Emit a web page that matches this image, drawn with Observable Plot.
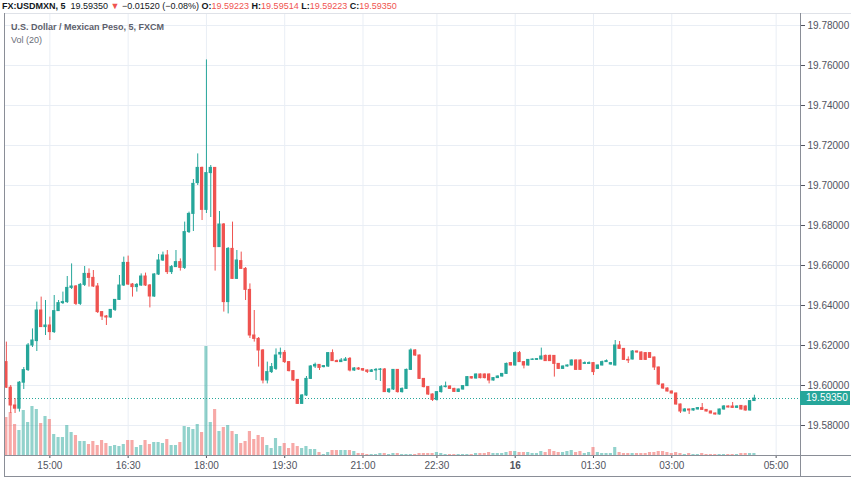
<!DOCTYPE html>
<html><head><meta charset="utf-8">
<script src="https://cdn.jsdelivr.net/npm/d3@7"></script>
<script src="https://cdn.jsdelivr.net/npm/@observablehq/plot@0.6"></script>
<style>
body{margin:0;background:#fff;font-family:"Liberation Sans",Arial,sans-serif;}
#wrap{position:relative;width:852px;height:485px;overflow:hidden;background:#fff;}
.layer{position:absolute;left:0;top:0;}
.layer svg{display:block;}
.ln{position:absolute;}
#hdr{position:absolute;left:2px;top:0;font-size:9px;line-height:13px;color:#131722;white-space:nowrap;}
#hdr .r{color:#ef5350;}
.leg{position:absolute;left:11px;font-size:9px;line-height:11px;color:#555;white-space:nowrap;}
#tag{position:absolute;left:800px;width:50px;height:14px;background:#26a69a;color:#fff;font-size:10px;line-height:14px;padding-left:6px;box-sizing:border-box;}
</style></head><body>
<div id="wrap">
  <div id="l1" class="layer"></div>
  <div id="l2" class="layer"></div>
  <div id="l3" class="layer"></div>
  <div class="ln" style="left:4px;top:13px;width:847px;height:1px;background:#dfe2e8"></div>
  <div class="ln" style="left:4px;top:13px;width:1px;height:464px;background:#8a8e97"></div>
  <div class="ln" style="left:4px;top:455px;width:847px;height:1px;background:#8a8e97"></div>
  <div class="ln" style="left:4px;top:476px;width:847px;height:1px;background:#8a8e97"></div>
  <div class="ln" style="left:800px;top:13px;width:1px;height:464px;background:#8a8e97"></div>
  <div id="hdr"><b>FX:USDMXN, 5</b>&nbsp; 19.59350 <span class="r">▼</span> −0.01520 (−0.08%) <b>O:</b><span class="r">19.59223</span> <b>H:</b><span class="r">19.59514</span> <b>L:</b><span class="r">19.59223</span> <b>C:</b><span class="r">19.59350</span></div>
  <div class="leg" style="top:22px;font-weight:bold;color:#5d606b">U.S. Dollar / Mexican Peso, 5, FXCM</div>
  <div class="leg" style="top:35px;color:#6a6d78">Vol (20)</div>
  <div id="tag">19.59350</div>
</div>
<script>
// 5-minute bars, index 0 = 14:10 (one bar missing between 21:00 and 22:30)
const open = [
19.6117,19.5989,19.5900,19.5884,19.6014,19.6077,19.6200,19.6222,19.6375,19.6292,
19.6300,19.6267,19.6372,19.6412,19.6417,19.6488,19.6495,19.6408,19.6503,19.6558,
19.6538,19.6495,19.6367,19.6345,19.6340,19.6378,19.6428,19.6500,19.6613,19.6505,
19.6492,19.6500,19.6545,19.6500,19.6445,19.6555,19.6625,19.6650,19.6567,19.6592,
19.6617,19.6588,19.6767,19.6858,19.7012,19.7088,19.6878,19.7062,19.7088,19.6692,
19.6805,19.6417,19.6683,19.6533,19.6622,19.6583,19.6478,19.6250,19.6233,19.6175,
19.6025,19.6067,19.6083,19.6155,19.6163,19.6117,19.6072,19.6028,19.5908,19.5950,
19.6033,19.6095,19.6103,19.6092,19.6095,19.6162,19.6122,19.6117,19.6123,19.6133,
19.6075,19.6085,19.6082,19.6075,19.6068,19.6075,19.6078,19.6080,19.5967,19.5980,
19.6078,19.5967,19.5983,19.6078,19.6175,19.6150,19.6033,19.5992,19.5955,19.5928,
19.5967,19.5992,19.5995,19.5983,19.5968,19.5980,19.5997,19.6042,19.6035,19.6055,
19.6055,19.6055,19.6025,19.6037,19.6045,19.6058,19.6112,19.6100,19.6162,19.6117,
19.6100,19.6128,19.6128,19.6130,19.6148,19.6148,19.6148,19.6108,19.6083,19.6095,
19.6100,19.6125,19.6125,19.6108,19.6108,19.6112,19.6083,19.6100,19.6117,19.6105,
19.6100,19.6200,19.6183,19.6128,19.6130,19.6170,19.6165,19.6162,19.6162,19.6140,
19.6090,19.6005,19.5985,19.5970,19.5960,19.5905,19.5870,19.5880,19.5875,19.5880,
19.5887,19.5878,19.5870,19.5860,19.5855,19.5880,19.5895,19.5895,19.5888,19.5898,
19.5895,19.5875,19.59223];
const high = [
19.6217,19.6000,19.5935,19.6020,19.6090,19.6210,19.6283,19.6417,19.6442,19.6425,
19.6342,19.6450,19.6425,19.6467,19.6545,19.6608,19.6500,19.6510,19.6595,19.6583,
19.6575,19.6510,19.6370,19.6350,19.6380,19.6430,19.6550,19.6642,19.6647,19.6510,
19.6510,19.6558,19.6562,19.6505,19.6560,19.6655,19.6667,19.6675,19.6600,19.6675,
19.6633,19.6817,19.6867,19.7030,19.7158,19.7092,19.7628,19.7100,19.7090,19.6870,
19.6810,19.6690,19.6817,19.6675,19.6667,19.6590,19.6508,19.6375,19.6240,19.6180,
19.6117,19.6110,19.6183,19.6187,19.6175,19.6120,19.6075,19.6030,19.5955,19.6045,
19.6100,19.6112,19.6105,19.6100,19.6165,19.6178,19.6127,19.6135,19.6140,19.6140,
19.6090,19.6090,19.6085,19.6078,19.6080,19.6085,19.6085,19.6085,19.5985,19.6080,
19.6080,19.5988,19.6082,19.6183,19.6180,19.6152,19.6035,19.5995,19.5958,19.5970,
19.6000,19.6017,19.5998,19.5986,19.5982,19.6000,19.6045,19.6045,19.6058,19.6058,
19.6058,19.6058,19.6040,19.6048,19.6060,19.6112,19.6115,19.6168,19.6170,19.6120,
19.6130,19.6133,19.6135,19.6187,19.6152,19.6152,19.6150,19.6110,19.6098,19.6103,
19.6128,19.6128,19.6128,19.6118,19.6118,19.6115,19.6102,19.6122,19.6128,19.6115,
19.6225,19.6220,19.6185,19.6143,19.6175,19.6172,19.6168,19.6165,19.6165,19.6142,
19.6092,19.6008,19.5988,19.5972,19.5962,19.5907,19.5885,19.5882,19.5885,19.5890,
19.5910,19.5880,19.5872,19.5862,19.5882,19.5900,19.5898,19.5915,19.5898,19.5900,
19.5898,19.5925,19.59514];
const low = [
19.5985,19.5860,19.5860,19.5867,19.5980,19.6070,19.6190,19.6170,19.6290,19.6250,
19.6225,19.6260,19.6370,19.6405,19.6410,19.6480,19.6400,19.6400,19.6495,19.6492,
19.6490,19.6360,19.6325,19.6300,19.6335,19.6370,19.6425,19.6495,19.6500,19.6442,
19.6467,19.6495,19.6495,19.6388,19.6440,19.6550,19.6620,19.6555,19.6555,19.6590,
19.6572,19.6580,19.6760,19.6770,19.7000,19.6825,19.6860,19.6840,19.6572,19.6690,
19.6367,19.6358,19.6530,19.6530,19.6580,19.6425,19.6235,19.6217,19.6092,19.6008,
19.6008,19.6060,19.6075,19.6135,19.6110,19.6068,19.6020,19.5905,19.5905,19.5945,
19.6030,19.6085,19.6075,19.6088,19.6090,19.6120,19.6115,19.6115,19.6120,19.6068,
19.6070,19.6075,19.6070,19.6060,19.6065,19.6025,19.6020,19.5965,19.5960,19.5975,
19.5962,19.5962,19.5980,19.6075,19.6145,19.6030,19.5988,19.5950,19.5920,19.5922,
19.5962,19.5988,19.5980,19.5965,19.5965,19.5977,19.5995,19.6032,19.6032,19.6033,
19.6033,19.6008,19.6022,19.6035,19.6042,19.6055,19.6098,19.6097,19.6115,19.6083,
19.6097,19.6125,19.6125,19.6128,19.6120,19.6120,19.6042,19.6080,19.6080,19.6092,
19.6098,19.6075,19.6075,19.6105,19.6105,19.6050,19.6080,19.6098,19.6115,19.6102,
19.6098,19.6180,19.6125,19.6110,19.6128,19.6162,19.6125,19.6125,19.6135,19.6075,
19.6000,19.5980,19.5968,19.5958,19.5902,19.5860,19.5868,19.5855,19.5872,19.5878,
19.5875,19.5868,19.5858,19.5852,19.5852,19.5877,19.5888,19.5885,19.5885,19.5878,
19.5872,19.5872,19.59223];
const close = [
19.5989,19.5900,19.5884,19.6014,19.6077,19.6200,19.6225,19.6375,19.6292,19.6300,
19.6267,19.6372,19.6412,19.6417,19.6488,19.6495,19.6408,19.6503,19.6558,19.6538,
19.6495,19.6367,19.6345,19.6340,19.6378,19.6428,19.6500,19.6613,19.6505,19.6492,
19.6503,19.6545,19.6500,19.6445,19.6555,19.6625,19.6650,19.6567,19.6592,19.6617,
19.6588,19.6767,19.6858,19.7008,19.7088,19.6878,19.7062,19.7088,19.6692,19.6805,
19.6417,19.6683,19.6533,19.6625,19.6583,19.6478,19.6250,19.6233,19.6175,19.6025,
19.6067,19.6092,19.6150,19.6163,19.6117,19.6072,19.6025,19.5908,19.5950,19.6033,
19.6095,19.6103,19.6088,19.6097,19.6162,19.6122,19.6117,19.6125,19.6130,19.6075,
19.6085,19.6080,19.6075,19.6068,19.6075,19.6078,19.6080,19.5967,19.5980,19.6078,
19.5967,19.5983,19.6078,19.6175,19.6150,19.6033,19.5992,19.5955,19.5928,19.5967,
19.5992,19.5995,19.5983,19.5968,19.5980,19.5997,19.6042,19.6035,19.6055,19.6037,
19.6037,19.6025,19.6037,19.6045,19.6058,19.6108,19.6100,19.6162,19.6117,19.6100,
19.6128,19.6130,19.6132,19.6145,19.6122,19.6122,19.6108,19.6083,19.6095,19.6100,
19.6125,19.6078,19.6078,19.6112,19.6112,19.6067,19.6100,19.6117,19.6122,19.6112,
19.6200,19.6183,19.6128,19.6125,19.6170,19.6165,19.6128,19.6128,19.6138,19.6090,
19.6005,19.5985,19.5970,19.5960,19.5905,19.5870,19.5880,19.5875,19.5882,19.5887,
19.5878,19.5870,19.5860,19.5855,19.5880,19.5895,19.5890,19.5888,19.5895,19.5880,
19.5875,19.5922,19.5935];
const volume = [
38,43,31,25,45,33,49,46,32,39,36,21,18,18,30,23,20,14,14,11,
14,10,15,12,9,10,9,11,15,15,8,10,15,11,13,13,12,16,10,10,
13,29,28,26,31,23,109,33,46,24,28,30,24,21,12,14,24,16,20,18,
10,7,17,9,12,7,12,9,7,9,6,6,3,1,3,5,5,5,5,5,
4,2,2,1,1,1,2,2,1,2,2,1,1,1,1,2,2,2,2,3,
2,1,1,1,1,1,1,1,2,2,2,3,2,2,2,3,4,4,3,3,
3,2,2,4,3,6,4,3,3,4,5,3,4,2,3,8,3,2,2,2,
8,3,2,2,2,2,2,2,3,3,4,4,3,2,3,2,1,2,1,1,
2,1,1,1,1,1,1,1,1,2,2,2,2];
const xTickIndex = [10,28,46,64,82,99,117,135,153,177];
const xTickLabels = ["15:00","16:30","18:00","19:30","21:00","22:30","16","01:30","03:00","05:00"];
const yTicks = [19.58,19.60,19.62,19.64,19.66,19.68,19.70,19.72,19.74,19.76,19.78];
const lastPrice = 19.5935;

const UP = "#26a69a", DOWN = "#ef5350";
const FONT = '"Liberation Sans", Arial, sans-serif';
const bars = open.map((o, i) => ({i, open: o, high: high[i], low: low[i], close: close[i], volume: volume[i], up: close[i] >= o}));

const base = {
  width: 852, height: 485, marginTop: 13, marginRight: 52, marginBottom: 30, marginLeft: 5,
  style: {background: "transparent", fontFamily: FONT, fontSize: "10px", color: "#50535e", overflow: "visible"}
};
const xDomain = [-0.2, 182.6];
const yDomain = [19.565, 19.786];

// Layer 1: grid and axes
const p1 = Plot.plot({
  ...base,
  x: {domain: xDomain, ticks: xTickIndex, tickFormat: d => xTickLabels[xTickIndex.indexOf(d)], tickSize: 3, tickPadding: 3, label: null},
  y: {domain: yDomain, axis: "right", ticks: yTicks, tickFormat: d => d.toFixed(5), tickSize: 4, tickPadding: 3, label: null},
  marks: [
    Plot.ruleY(yTicks, {stroke: "#e9eef5"}),
    Plot.ruleX(xTickIndex, {stroke: "#e9eef5"})
  ]
});
d3.select(p1).selectAll("text").filter(function(){ return this.textContent === "16"; }).attr("font-weight", "bold");
document.getElementById("l1").appendChild(p1);

// Layer 2: volume
const p2 = Plot.plot({
  ...base,
  x: {domain: xDomain, axis: null},
  y: {domain: [0, 442], axis: null},
  color: {type: "identity"},
  marks: [
    Plot.rectY(bars, {x1: d => d.i - 0.36, x2: d => d.i + 0.36, y: "volume", fill: d => d.up ? UP : DOWN, fillOpacity: 0.5})
  ]
});
document.getElementById("l2").appendChild(p2);

// Layer 3: candles and last price line
const p3 = Plot.plot({
  ...base,
  x: {domain: xDomain, axis: null},
  y: {domain: yDomain, axis: null},
  color: {type: "identity"},
  marks: [
    Plot.ruleY([lastPrice], {stroke: UP, strokeDasharray: "1,2"}),
    Plot.ruleX(bars, {x: "i", y1: "low", y2: "high", stroke: d => d.up ? UP : DOWN}),
    Plot.rect(bars, {x1: d => d.i - 0.38, x2: d => d.i + 0.38, y1: "open", y2: "close", fill: d => d.up ? UP : DOWN, insetTop: -0.5, insetBottom: -0.5})
  ]
});
document.getElementById("l3").appendChild(p3);

const ty = p3.scale("y").apply(lastPrice);
document.getElementById("tag").style.top = (ty - 7) + "px";
</script>
</body></html>
